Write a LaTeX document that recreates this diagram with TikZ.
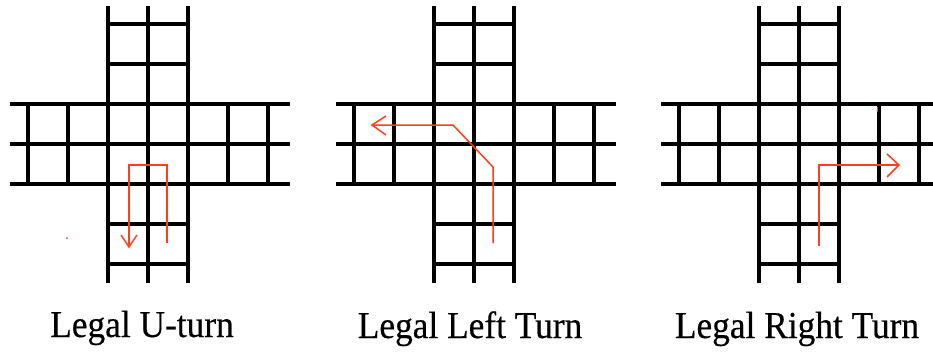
\documentclass[tikz,border=0pt]{standalone}
\usepackage{fontspec}
\setmainfont{Liberation Serif}
\newfontfamily\capfont[FakeStretch=0.93,FakeBold=0.4]{Liberation Serif}
\definecolor{turnred}{RGB}{255,62,30}
\tikzset{
  road/.style={line width=3.4pt, black},
  route/.style={line width=1.5pt, turnred},
  caption/.style={anchor=base, inner sep=0pt, font=\capfont\fontsize{38}{42}\selectfont},
}
\newcommand\crossgrid[1]{%
  \begin{scope}[shift={(#1,0)}]
    \foreach \xx in {108,148,188} \draw[road] (\xx,6) -- (\xx,283);
    \foreach \yy in {104,144,184} \draw[road] (10,\yy) -- (290,\yy);
    \foreach \yy in {24,64,224,264} \draw[road] (108,\yy) -- (188,\yy);
    \foreach \xx in {28,68,228,268} \draw[road] (\xx,104) -- (\xx,184);
  \end{scope}}
\begin{document}
\begin{tikzpicture}[x=1pt,y=-1pt]
  \useasboundingbox (0,0) rectangle (933,351);
  \clip (0,0) rectangle (933,351);
  \crossgrid{0}
  \crossgrid{326}
  \crossgrid{651}
  % U-turn
  \draw[route] (167,243) -- (167,165) -- (129,165) -- (129,247);
  \draw[route] (121,235) -- (129,247) -- (137,235);
  \fill[turnred] (67,238) circle (1pt);
  % Left turn
  \draw[route] (493,243) -- (493,167) -- (453,125) -- (372,125);
  \draw[route] (386,116) -- (372,125) -- (386,135);
  % Right turn
  \draw[route] (819,246) -- (819,165) -- (899,165);
  \draw[route] (887,154) -- (899,165) -- (887,177);
  \draw[turnred, line width=1pt] (877,107) -- (877,112);
  % captions
  \node[caption] (c1) at (142,337) {Legal U-turn};
  \node[caption] (c2) at (470,338) {Legal Left Turn};
  \node[caption] (c3) at (797,338) {Legal Right Turn};
\end{tikzpicture}
\end{document}
